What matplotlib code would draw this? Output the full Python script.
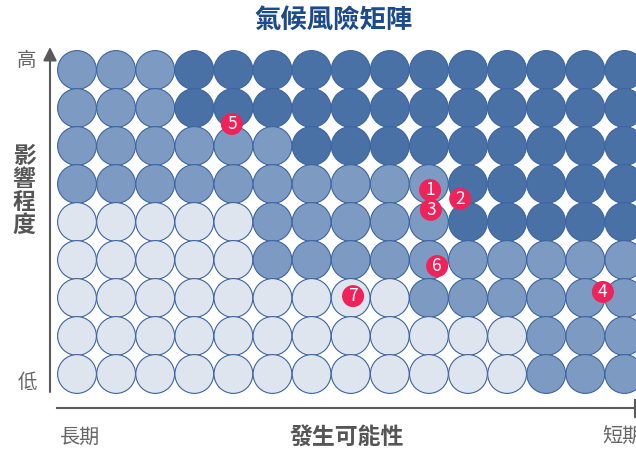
import numpy as np
import matplotlib.pyplot as plt
from matplotlib.patches import Circle

plt.rcParams['font.family'] = ['Noto Sans CJK TC', 'DejaVu Sans']

# risk level of each cell, top row = highest impact, left = long term
# 0 = low, 1 = medium, 2 = high
levels = [
    [1, 1, 1, 2, 2, 2, 2, 2, 2, 2, 2, 2, 2, 2, 2],
    [1, 1, 1, 2, 2, 2, 2, 2, 2, 2, 2, 2, 2, 2, 2],
    [1, 1, 1, 1, 1, 1, 2, 2, 2, 2, 2, 2, 2, 2, 2],
    [1, 1, 1, 1, 1, 1, 1, 1, 1, 1, 2, 2, 2, 2, 2],
    [0, 0, 0, 0, 0, 1, 1, 1, 1, 1, 2, 2, 2, 2, 2],
    [0, 0, 0, 0, 0, 1, 1, 1, 1, 1, 1, 1, 1, 1, 1],
    [0, 0, 0, 0, 0, 0, 0, 0, 0, 1, 1, 1, 1, 1, 1],
    [0, 0, 0, 0, 0, 0, 0, 0, 0, 0, 0, 0, 1, 1, 1],
    [0, 0, 0, 0, 0, 0, 0, 0, 0, 0, 0, 0, 1, 1, 1],
]
level_colors = ['#dfe5ef', '#7d9bc2', '#4a71a6']

# numbered risks, position in grid units (column, row)
risk_labels = ['1', '2', '3', '4', '5', '6', '7']
risk_col = [9.03, 9.80, 9.05, 13.45, 3.96, 9.21, 7.06]
risk_row = [3.16, 3.39, 3.68, 5.84, 1.42, 5.16, 5.95]

W, H = 636, 451
x0, y0 = 77, 70        # centre of top-left circle, pixels
dx, dy = 39.1, 38.0
rad = 19.4

fig = plt.figure(figsize=(W / 100, H / 100), dpi=100)
ax = fig.add_axes([0, 0, 1, 1])
ax.set_xlim(0, W)
ax.set_ylim(H, 0)
ax.axis('off')

for r, row in enumerate(levels):
    for c, lv in enumerate(row):
        ax.add_patch(Circle((x0 + c * dx, y0 + r * dy), rad,
                            facecolor=level_colors[lv], edgecolor='#3c64a2',
                            linewidth=0.8))

for lab, c, r in zip(risk_labels, risk_col, risk_row):
    cx, cy = x0 + c * dx, y0 + r * dy
    ax.add_patch(Circle((cx, cy), 11, facecolor='#ef2359', edgecolor='none',
                        zorder=5))
    ax.text(cx, cy, lab, color='white', fontsize=12.5, ha='center',
            va='center', zorder=6)

# axes lines
axis_col = '#5a5a5a'
ax.annotate('', xy=(50, 47), xytext=(50, 392),
            arrowprops=dict(arrowstyle='-|>', color=axis_col, lw=1.5,
                            mutation_scale=20, shrinkA=0, shrinkB=0))
ax.plot([57, 636], [408, 408], color=axis_col, lw=1.5)
ax.plot([635, 635], [400, 417], color=axis_col, lw=1.5)

# texts
ax.text(333, 20, '氣候風險矩陣', color='#1d4a8a', fontsize=19,
        fontweight='bold', ha='center', va='center')
ax.text(27, 61, '高', color='#666666', fontsize=14, ha='center', va='center')
ax.text(27, 382, '低', color='#666666', fontsize=14, ha='center', va='center')
ax.text(24, 191, '影\n響\n程\n度', color='#555555', fontsize=16.5,
        fontweight='bold', ha='center', va='center', linespacing=1.0)
ax.text(80, 437, '長期', color='#666666', fontsize=14.5, ha='center',
        va='center')
ax.text(347, 437, '發生可能性', color='#555555', fontsize=16.5,
        fontweight='bold', ha='center', va='center')
ax.text(602, 437, '短期', color='#666666', fontsize=14.5, ha='left',
        va='center')

fig.savefig('out.png', dpi=100)
